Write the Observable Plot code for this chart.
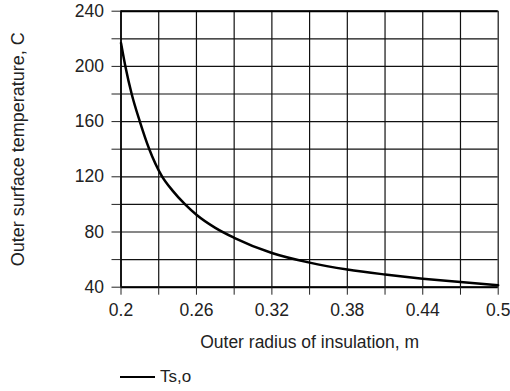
<!DOCTYPE html>
<html><head><meta charset="utf-8">
<script src="https://cdn.jsdelivr.net/npm/d3@7"></script>
<script src="https://cdn.jsdelivr.net/npm/@observablehq/plot@0.6"></script>
<style>
body{margin:0;background:#fff;font-family:"Liberation Sans",Arial,sans-serif;}
#chart svg{display:block;}
#legend{position:relative;height:31px;width:510px;}
#legend .sw{position:absolute;left:120px;top:15.5px;width:35px;height:2.5px;background:#000;}
#legend .lb{position:absolute;left:160px;top:6.5px;line-height:20px;font-size:17px;color:#222;}
</style></head><body>
<div id="chart"></div>
<div id="legend"><span class="sw"></span><span class="lb"></span></div>
<script>
// Outer radius of insulation (m) and outer surface temperature (C)
const radius = [0.200, 0.2035, 0.2085, 0.215, 0.2225, 0.2325, 0.241, 0.251, 0.26, 0.275, 0.29, 0.32, 0.35, 0.38, 0.41, 0.44, 0.47, 0.50];
const temperature = [217, 200, 180, 160, 140, 120.5, 110, 100, 92.5, 83, 75.8, 64.8, 57.8, 52.8, 49.2, 46.2, 43.7, 41.5];
const seriesName = "Ts,o";

// Grid / tick values and tick labels
const rGrid = [0.2, 0.23, 0.26, 0.29, 0.32, 0.35, 0.38, 0.41, 0.44, 0.47, 0.5];
const rLabels = [0.2, 0.26, 0.32, 0.38, 0.44, 0.5];
const tGrid = [40, 60, 80, 100, 120, 140, 160, 180, 200, 220, 240];
const tLabels = [40, 80, 120, 160, 200, 240];
const xTitle = "Outer radius of insulation, m";
const yTitle = "Outer surface temperature, C";

const data = radius.map((r, i) => ({r, t: temperature[i]}));

const plot = Plot.plot({
  width: 510,
  height: 360,
  marginLeft: 120.5,
  marginRight: 12.3,
  marginTop: 10.7,
  marginBottom: 73.3,
  style: {fontFamily: "'Liberation Sans', Arial, sans-serif", fontSize: "17.5px", color: "#222", background: "#fff", overflow: "visible"},
  x: {domain: [0.2, 0.5]},
  y: {domain: [40, 240]},
  marks: [
    Plot.ruleX(rGrid, {stroke: "#111", strokeWidth: 1.2}),
    Plot.ruleY(tGrid, {stroke: "#111", strokeWidth: 1.2}),
    Plot.ruleY([tGrid[0], tGrid[tGrid.length - 1]], {stroke: "#000", strokeWidth: 2}),
    Plot.ruleX([rGrid[0]], {stroke: "#000", strokeWidth: 1.6}),
    Plot.axisX({ticks: rGrid, tickFormat: d => rLabels.includes(d) ? String(d) : "", tickSize: 8, tickPadding: 8, label: null}),
    Plot.axisY({ticks: tGrid, tickFormat: d => tLabels.includes(d) ? String(d) : "", tickSize: 9, tickPadding: 8, label: null}),
    Plot.text([yTitle], {frameAnchor: "left", dx: -102.5, rotate: -90, textAnchor: "middle", lineAnchor: "middle", fontSize: 18, fill: "#222"}),
    Plot.text([xTitle], {frameAnchor: "bottom", dy: 55, textAnchor: "middle", lineAnchor: "middle", fontSize: 17.5, fill: "#222"}),
    Plot.line(data, {x: "r", y: "t", stroke: "#000", strokeWidth: 2.5, curve: "monotone-x"})
  ]
});
document.getElementById("chart").appendChild(plot);
document.querySelector("#legend .lb").textContent = seriesName;
</script>
</body></html>
